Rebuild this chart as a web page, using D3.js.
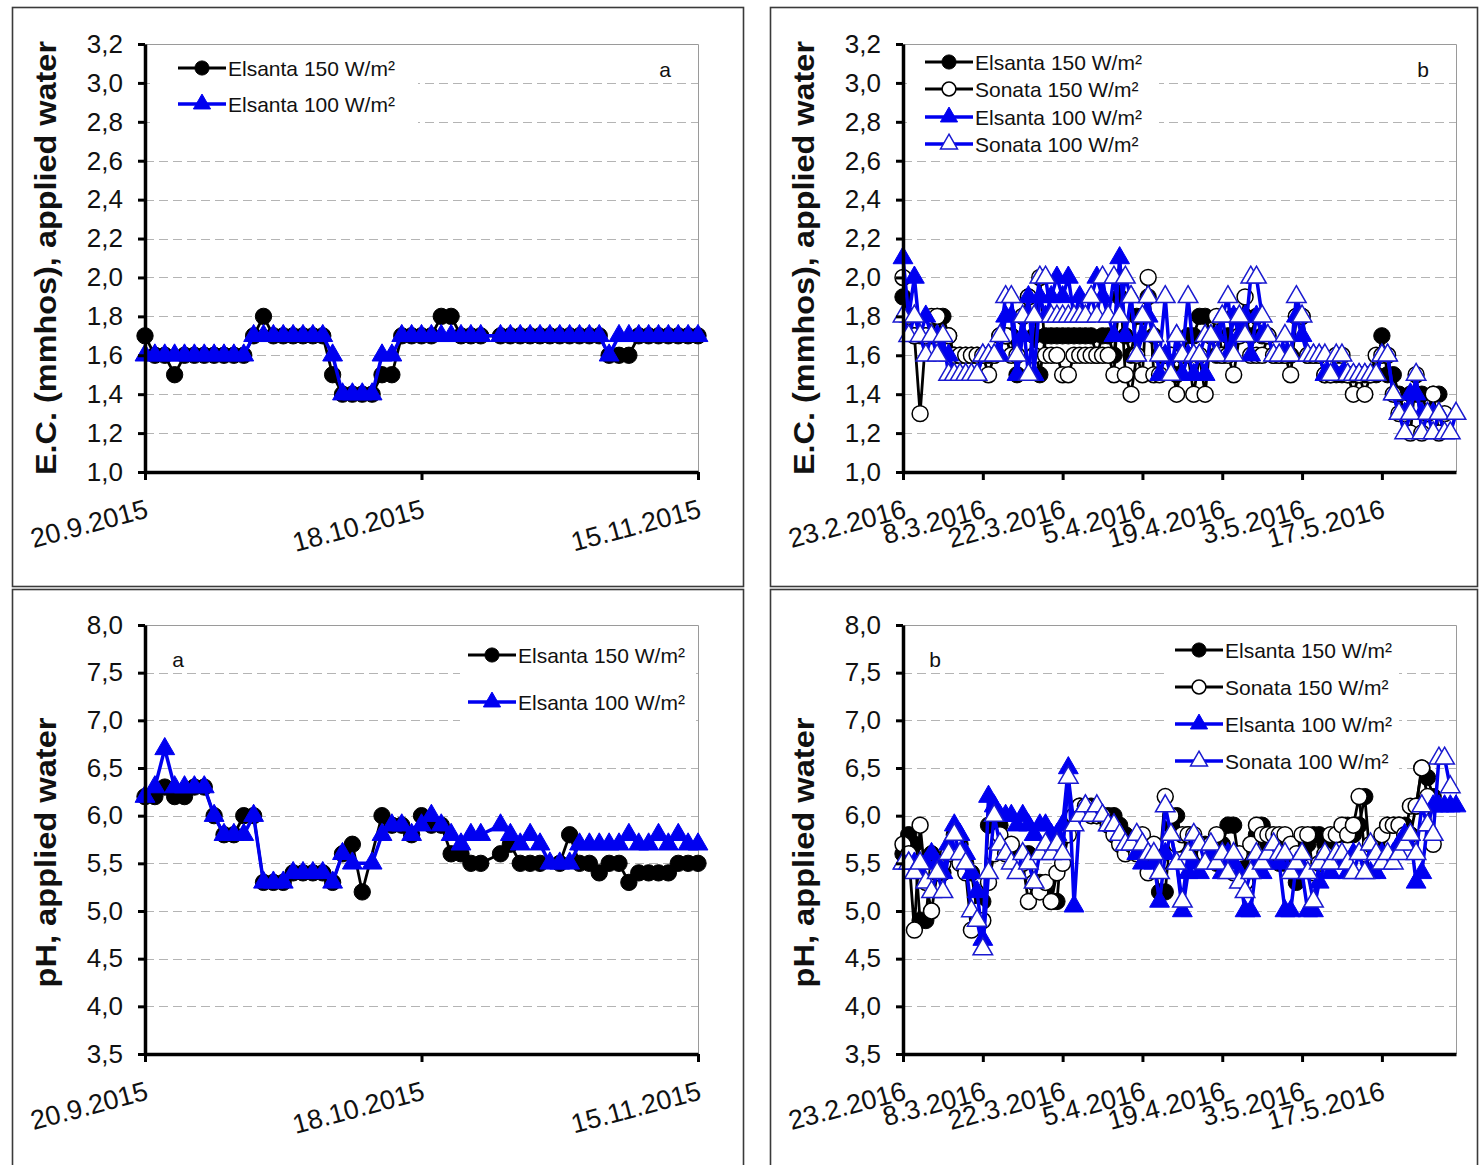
<!DOCTYPE html>
<html><head><meta charset="utf-8">
<script src="https://cdn.jsdelivr.net/npm/d3@7"></script>
<style>body{margin:0;background:#fff}text{font-family:"Liberation Sans",Arial,sans-serif}</style>
</head><body>
<script>
// ---------------- DATA ----------------
const seriesNames = ["Elsanta 150 W/m²","Sonata 150 W/m²","Elsanta 100 W/m²","Sonata 100 W/m²"];
const startA = "20.9.2015";
const startB = "23.2.2016";
const xTicksA = ["20.9.2015","18.10.2015","15.11.2015"];
const xTicksB = ["23.2.2016","8.3.2016","22.3.2016","5.4.2016","19.4.2016","3.5.2016","17.5.2016"];
const endB = "30.5.2016";
const ecTicks = [1.0,1.2,1.4,1.6,1.8,2.0,2.2,2.4,2.6,2.8,3.0,3.2];
const phTicks = [3.5,4.0,4.5,5.0,5.5,6.0,6.5,7.0,7.5,8.0];

// daily values, panel a (E.C.)
const ecA_elsanta150 = [1.7,1.6,1.6,1.5,1.6,1.6,1.6,1.6,1.6,1.6,1.6, 1.7,1.8,1.7,1.7,1.7,1.7,1.7,1.7, 1.5,1.4,1.4,1.4,1.4, 1.5,1.5, 1.7,1.7,1.7,1.7,1.8,1.8,1.7,1.7,1.7, null, 1.7,1.7,1.7,1.7,1.7,1.7,1.7,1.7,1.7,1.7,1.7, 1.6,1.6,1.6, 1.7,1.7,1.7,1.7,1.7,1.7,1.7];
const ecA_elsanta100 = [1.6,1.6,1.6,1.6,1.6,1.6,1.6,1.6,1.6,1.6,1.6, 1.7,1.7,1.7,1.7,1.7,1.7,1.7,1.7, 1.6,1.4,1.4,1.4,1.4, 1.6,1.6, 1.7,1.7,1.7,1.7,1.7,1.7,1.7,1.7,1.7, null, 1.7,1.7,1.7,1.7,1.7,1.7,1.7,1.7,1.7,1.7,1.7, 1.6, 1.7,1.7,1.7,1.7,1.7,1.7,1.7,1.7,1.7];

// daily values, panel a (pH)
const phA_elsanta150 = [6.2,6.2,6.3,6.2,6.2,6.3,6.3,6.0,5.8,5.8,6.0,6.0, 5.3,5.3,5.3,5.4,5.4,5.4,5.4,5.3, 5.6,5.7,5.2,null,6.0,5.9,5.9,5.8,6.0,5.9,5.9, 5.6,5.6,5.5,5.5,null,5.6,5.7,5.5,5.5,5.5,null,5.5,5.8,5.5,5.5,5.4,5.5,5.5,5.3,5.4,5.4,5.4,5.4,5.5,5.5,5.5];
const phA_elsanta100 = [6.2,6.3,6.7,6.3,6.3,6.3,6.3,6.0,5.8,5.8,5.8,6.0, 5.3,5.3,5.3,5.4,5.4,5.4,5.4,5.3, 5.6,5.5,null,5.5,5.8,5.9,5.9,5.8,5.9,6.0,5.9, 5.8,5.7,5.8,5.8,null,5.9,5.8,5.7,5.8,5.7,5.5,5.5,5.5,5.7,5.7,5.7,5.7,5.7,5.8,5.7,5.7,5.8,5.7,5.8,5.7,5.7];

// daily values, panel b (E.C.)
const ecB_elsanta150 = [1.9,1.8,1.7,1.7,1.7,1.7,1.8,1.8,1.7,1.6, 1.6,1.6,1.6,1.6,1.6,1.6,1.6,1.7,1.7,1.7, 1.5,1.8,1.9,1.7,1.5,1.7,1.7,1.7,1.7,1.7, 1.7,1.7,1.7,1.7,1.6,1.7,1.7,1.6,1.9,1.7, 1.6,1.8,1.8,1.9,1.7,1.6,1.6,1.6,1.5,1.6, 1.7,1.7,1.8,1.8,1.7,1.6,1.6,1.7,1.8,1.7, 1.8,1.7,1.8,1.7,1.7,1.6,1.6,1.6,1.6,1.8, 1.8,1.6,1.6,1.6,1.5,1.5,1.5,1.5,1.5,1.5, 1.5,1.5,1.5,1.5,1.7,1.5,1.5,1.4,1.3,1.4, 1.4,1.4,1.3,1.4,1.4,null,null,null];
const ecB_sonata150 = [2.0,1.8,1.7,1.3,1.7,1.8,1.8,1.7,1.7,1.6, 1.6,1.6,1.6,1.6,1.6,1.5,1.6,1.7,1.7,1.6, 1.6,1.8,1.9,1.6,2.0,1.6,1.6,1.6,1.5,1.5, 1.6,1.6,1.6,1.6,1.6,1.6,1.6,1.5,2.0,1.5, 1.4,1.6,1.5,2.0,1.5,1.5,1.6,1.6,1.4,1.6, 1.6,1.4,1.6,1.4,1.7,1.8,1.6,1.6,1.5,1.7, 1.9,1.6,1.6,1.6,1.7,1.6,1.6,1.6,1.5,1.8, 1.8,1.6,1.6,1.6,1.5,1.5,1.6,1.6,1.5,1.4, 1.5,1.4,1.5,1.6,1.6,1.6,1.4,1.3,1.3,1.2, 1.5,1.2,1.3,1.4,1.2,1.3,null,null];
const ecB_elsanta100 = [2.1,1.8,2.0,1.7,1.8,1.7,1.7,1.6,1.6,1.5, 1.5,1.5,1.5,1.5,1.6,1.6,1.6,1.6,1.8,1.8, 1.5,1.7,1.9,1.5,1.9,1.8,1.9,2.0,1.9,2.0, 1.8,1.9,1.8,1.9,2.0,1.9,1.8,1.7,2.1,1.7, 1.9,1.6,1.7,1.8,1.7,1.5,1.6,1.5,1.7,1.5, 1.6,1.5,1.6,1.5,1.7,1.7,1.8,1.6,1.8,1.7, 1.8,1.6,1.8,1.7,1.7,1.6,1.6,1.6,1.6,1.8, 1.7,1.6,1.6,1.6,1.5,1.5,1.5,1.5,1.5,1.5, 1.5,1.5,1.5,1.5,1.6,1.6,1.4,1.3,1.3,1.4, 1.4,1.3,1.3,1.3,1.3,null,null,null];
const ecB_sonata100 = [1.8,1.7,1.8,1.7,1.6,1.7,1.6,1.7,1.5,1.5, 1.5,1.5,1.5,1.5,1.6,1.6,1.6,1.7,1.9,1.9, 1.6,1.8,1.5,1.8,2.0,2.0,1.8,1.8,1.8,1.8, 1.8,1.8,1.8,1.9,1.8,2.0,1.8,2.0,1.8,2.0, 1.9,1.6,1.8,1.9,1.7,1.6,1.9,1.5,1.7,1.6, 1.9,1.6,1.6,1.7,1.7,1.6,1.8,1.9,1.6,1.8, 1.7,2.0,2.0,1.8,1.7,1.6,1.6,1.7,1.6,1.9, 1.8,1.6,1.6,1.6,1.6,1.5,1.6,1.6,1.5,1.5, 1.5,1.5,1.5,1.5,1.6,1.6,1.4,1.3,1.2,1.3, 1.5,1.2,1.3,1.2,1.3,1.2,1.2,1.3];

// daily values, panel b (pH)
const phB_elsanta150 = [5.6,5.8,5.7,4.9,4.9,5.6,5.5,5.4,5.6,5.8, 5.7,5.5,5.4,5.0,5.1,5.9,5.9,5.9,5.7,5.6, 5.6,5.6,5.6,5.3,5.3,5.2,5.1,5.1,5.8,5.9, 6.0,6.1,6.1,6.1,6.0,6.0,6.0,6.0,5.9,5.8, 5.7,5.7,5.6,5.6,5.5,5.2,5.2,5.9,6.0,5.7, 5.8,5.7,5.6,5.7,5.6,5.5,5.7,5.9,5.9,5.5, 5.3,5.4,5.8,5.9,5.7,5.7,5.5,5.5,5.5,5.3, 5.6,5.7,5.8,5.8,5.7,5.6,5.8,5.8,5.9,5.8, 5.9,6.2,5.5,5.6,5.6,5.9,5.9,5.9,5.9,5.8, 6.1,6.5,6.4,6.2,null,null,null,null];
const phB_sonata150 = [5.7,5.6,4.8,5.9,5.3,5.0,5.4,5.5,5.6,5.7, 5.5,5.4,4.8,5.0,4.9,5.3,5.6,5.8,5.6,5.7, 5.5,5.5,5.1,5.3,5.2,5.3,5.1,5.4,5.5,5.8, 6.0,6.1,6.1,6.0,6.0,6.0,5.9,5.8,5.7,5.6, 5.7,5.6,5.8,5.4,5.7,5.5,6.2,6.0,5.7,5.8, 5.8,5.8,5.7,5.6,5.7,5.8,5.6,5.5,5.4,5.6, 5.3,5.7,5.9,5.8,5.8,5.8,5.8,5.8,5.7,5.6, 5.8,5.8,5.4,5.5,5.6,5.8,5.8,5.9,5.8,5.9, 6.2,5.6,5.7,5.5,5.8,5.9,5.9,5.9,5.8,6.1, 6.1,6.5,6.2,5.7,null,null,null,null];
const phB_elsanta100 = [5.5,5.5,5.5,5.4,5.5,5.6,5.5,5.4,5.7,5.9, 5.8,5.6,5.4,5.2,4.7,6.2,6.1,6.0,6.0,6.0, 5.9,6.0,5.9,5.8,5.9,5.9,5.8,5.8,5.9,6.5, 5.05,6.0,6.1,6.0,6.0,6.0,5.9,5.9,5.8,5.7, 5.7,5.6,5.5,5.6,5.5,5.1,5.6,5.8,5.5,5.0, 5.4,5.5,5.4,5.5,5.6,5.5,5.4,5.6,5.5,5.4, 5.0,5.0,5.5,5.4,5.5,5.6,5.5,5.0,5.0,5.5, 5.4,5.0,5.0,5.3,5.5,5.4,5.6,5.5,5.4,5.6, 5.6,5.4,5.4,5.4,5.6,5.5,5.6,5.7,5.8,5.8, 5.3,5.4,5.9,6.1,6.1,6.1,6.1,6.1];
const phB_sonata100 = [5.5,5.5,5.4,5.5,5.3,5.2,5.4,5.2,5.6,5.8, 5.6,5.5,5.0,4.9,4.6,5.4,6.0,5.7,5.6,5.5, 5.4,5.6,5.5,5.3,5.6,5.7,5.6,5.7,5.6,6.4, 5.9,6.0,6.1,6.0,6.1,6.0,5.9,5.9,5.8,5.7, 5.7,5.8,5.7,5.6,5.6,5.4,6.1,5.8,5.5,5.1, 5.6,5.8,5.7,5.5,5.7,5.5,5.6,5.4,5.6,5.3, 5.2,5.4,5.6,5.5,5.6,5.7,5.6,5.6,5.4,5.5, 5.6,5.4,5.1,5.5,5.6,5.5,5.6,5.6,5.5,5.4, 5.6,5.4,5.7,5.6,5.5,5.6,5.5,5.6,5.7,5.8, 5.6,6.1,5.9,5.8,6.6,6.6,6.3,null];

// ---------------- DRAWING ----------------
const W = 1479, H = 1165;
const BLUE = "#0000f0";
const FONT = '"Liberation Sans", Arial, sans-serif';
const parseD = s => { const [d,m,y] = s.split(".").map(Number); return new Date(Date.UTC(y, m-1, d)); };
const fmtD = d => `${d.getUTCDate()}.${d.getUTCMonth()+1}.${d.getUTCFullYear()}`;

const svg = d3.select("body").append("svg").attr("width", W).attr("height", H);
svg.append("rect").attr("width", W).attr("height", H).attr("fill", "#fff");

// panel frames
[[12.5,7.5,731,579],[770.5,7.5,707,579],[12.5,589.5,731,580],[770.5,589.5,707,580]].forEach(f => {
  svg.append("rect").attr("x", f[0]).attr("y", f[1]).attr("width", f[2]).attr("height", f[3])
    .attr("fill", "none").attr("stroke", "#3a3a3a").attr("stroke-width", 1.6);
});

const styles = [
  {line:"#000", lw:2.8, shape:d3.symbolCircle, size:210, fill:"#000", stroke:"#000", sw:1},
  {line:"#000", lw:2.8, shape:d3.symbolCircle, size:200, fill:"#fff", stroke:"#000", sw:1.5},
  {line:BLUE, lw:3.5, shape:d3.symbolTriangle, size:170, fill:BLUE, stroke:BLUE, sw:1},
  {line:BLUE, lw:3.5, shape:d3.symbolTriangle, size:165, fill:"#fff", stroke:"#1a1ad0", sw:1.5}
];

function panel(cfg) {
  const g = svg.append("g");
  const x = d3.scaleUtc().domain([parseD(cfg.start), parseD(cfg.end)]).range([cfg.x0, cfg.x1]);
  const y = d3.scaleLinear().domain([cfg.yTicks[0], cfg.yTicks[cfg.yTicks.length-1]]).range([cfg.y1, cfg.y0]);

  // gridlines
  g.append("g").selectAll("line").data(cfg.yTicks.slice(1, -1)).join("line")
    .attr("x1", cfg.x0).attr("x2", cfg.x1).attr("y1", d => Math.round(y(d)) + 0.5).attr("y2", d => Math.round(y(d)) + 0.5)
    .attr("stroke", "#b4b4b4").attr("stroke-width", 1).attr("stroke-dasharray", "9,5");
  // plot border top/right
  g.append("path").attr("d", `M${cfg.x0},${cfg.y0+0.5}H${cfg.x1+0.5}V${cfg.y1}`)
    .attr("fill", "none").attr("stroke", "#9a9a9a").attr("stroke-width", 1);

  // series
  const start = parseD(cfg.start);
  cfg.series.forEach((vals, si) => {
    const st = styles[cfg.styleIdx[si]];
    const pts = vals.map((v, i) => ({d: d3.utcDay.offset(start, i), v})).filter(p => p.v != null);
    g.append("path").datum(pts)
      .attr("d", d3.line().x(p => x(p.d)).y(p => y(p.v)))
      .attr("fill", "none").attr("stroke", st.line).attr("stroke-width", st.lw).attr("stroke-linejoin", "round");
    g.append("g").selectAll("path").data(pts).join("path")
      .attr("transform", p => `translate(${x(p.d)},${y(p.v)})`)
      .attr("d", d3.symbol(st.shape, st.size))
      .attr("fill", st.fill).attr("stroke", st.stroke).attr("stroke-width", st.sw);
  });

  // axes
  const yAxis = d3.axisLeft(y).tickValues(cfg.yTicks).tickSize(7).tickSizeOuter(0).tickPadding(15)
    .tickFormat(d => d.toFixed(1).replace(".", ","));
  const gy = g.append("g").attr("transform", `translate(${cfg.x0},0)`).call(yAxis);
  gy.select(".domain").attr("stroke", "#000").attr("stroke-width", 3.5);
  gy.selectAll(".tick line").attr("stroke", "#000").attr("stroke-width", 3);
  gy.selectAll("text").attr("font-size", 26).attr("font-family", FONT).attr("fill", "#111");

  const tickDates = cfg.xTicks.map(parseD);
  const xAxis = d3.axisBottom(x).tickValues(tickDates).tickSize(8).tickSizeOuter(0).tickFormat(fmtD);
  const gx = g.append("g").attr("transform", `translate(0,${cfg.y1})`).call(xAxis);
  gx.select(".domain").attr("stroke", "#000").attr("stroke-width", 3.5);
  gx.selectAll(".tick line").attr("stroke", "#000").attr("stroke-width", 3);
  gx.selectAll("text").attr("font-size", 27).attr("font-family", FONT).attr("fill", "#111")
    .attr("y", 0).attr("dy", 0).attr("text-anchor", "end")
    .attr("transform", "translate(4,45) rotate(-15)");

  // y title
  g.append("text").attr("transform", `translate(${cfg.titleX},${(cfg.y0 + cfg.y1) / 2 + cfg.titleDy}) rotate(-90)`)
    .attr("text-anchor", "middle").attr("font-size", 29).attr("font-weight", "bold").attr("font-family", FONT)
    .attr("textLength", cfg.titleLen).attr("lengthAdjust", "spacingAndGlyphs").attr("fill", "#111")
    .text(cfg.title);

  // panel letter
  g.append("text").attr("x", cfg.letter[0]).attr("y", cfg.letter[1]).attr("font-size", 21)
    .attr("font-family", FONT).attr("text-anchor", "middle").attr("fill", "#111").text(cfg.letterText);

  // legend
  const lg = g.append("g");
  lg.append("rect").attr("x", cfg.legBox[0]).attr("y", cfg.legBox[1]).attr("width", cfg.legBox[2]).attr("height", cfg.legBox[3]).attr("fill", "#fff");
  cfg.series.forEach((vals, si) => {
    const st = styles[cfg.styleIdx[si]];
    const ly = cfg.legY[si];
    lg.append("line").attr("x1", cfg.legX).attr("x2", cfg.legX + 48).attr("y1", ly).attr("y2", ly)
      .attr("stroke", st.line).attr("stroke-width", st.lw);
    lg.append("path").attr("transform", `translate(${cfg.legX + 24},${ly})`).attr("d", d3.symbol(st.shape, st.size * 0.75))
      .attr("fill", st.fill).attr("stroke", st.stroke).attr("stroke-width", st.sw);
    lg.append("text").attr("x", cfg.legX + 50).attr("y", ly).attr("dy", "0.36em").attr("font-size", 21)
      .attr("font-family", FONT).attr("fill", "#111").text(seriesNames[cfg.styleIdx[si]]);
  });
}

// top-left: EC a
panel({x0:145, x1:698, y0:44, y1:472, start:startA, end:xTicksA[2], xTicks:xTicksA, yTicks:ecTicks,
  series:[ecA_elsanta150, ecA_elsanta100], styleIdx:[0,2],
  title:"E.C.  (mmhos),  applied water", titleX:56, titleDy:0, titleLen:434,
  letter:[665,77], letterText:"a",
  legBox:[150,46,268,94], legX:178, legY:[68,104]});

// top-right: EC b
panel({x0:903, x1:1456, y0:44, y1:472, start:startB, end:endB, xTicks:xTicksB, yTicks:ecTicks,
  series:[ecB_elsanta150, ecB_sonata150, ecB_elsanta100, ecB_sonata100], styleIdx:[0,1,2,3],
  title:"E.C.  (mmhos),  applied water", titleX:814, titleDy:0, titleLen:434,
  letter:[1423,77], letterText:"b",
  legBox:[907,46,252,110], legX:925, legY:[62,89,117,144]});

// bottom-left: pH a
panel({x0:145, x1:698, y0:625, y1:1054, start:startA, end:xTicksA[2], xTicks:xTicksA, yTicks:phTicks,
  series:[phA_elsanta150, phA_elsanta100], styleIdx:[0,2],
  title:"pH, applied water", titleX:56, titleDy:13, titleLen:270,
  letter:[178,667], letterText:"a",
  legBox:[460,630,236,97], legX:468, legY:[655,702]});

// bottom-right: pH b
panel({x0:903, x1:1456, y0:625, y1:1054, start:startB, end:endB, xTicks:xTicksB, yTicks:phTicks,
  series:[phB_elsanta150, phB_sonata150, phB_elsanta100, phB_sonata100], styleIdx:[0,1,2,3],
  title:"pH, applied water", titleX:814, titleDy:13, titleLen:270,
  letter:[935,667], letterText:"b",
  legBox:[1167,630,232,146], legX:1175, legY:[650,687,724,761]});
</script>
</body></html>
